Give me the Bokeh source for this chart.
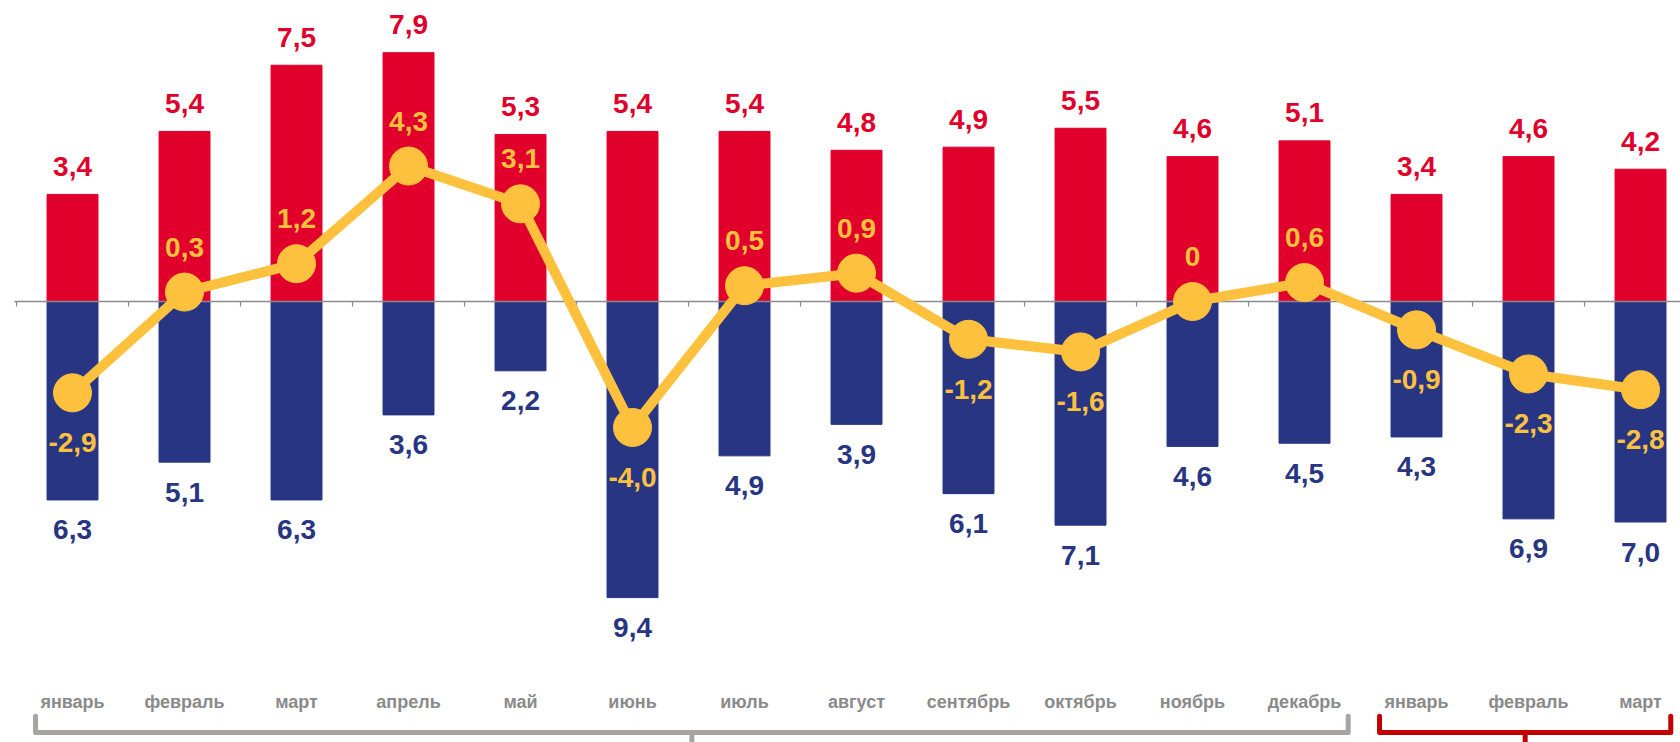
from bokeh.plotting import figure
from bokeh.models import Range1d, ColumnDataSource
from bokeh.core.properties import value
from bokeh.embed import file_html
from bokeh.resources import INLINE

months = ["январь", "февраль", "март", "апрель", "май", "июнь", "июль", "август",
          "сентябрь", "октябрь", "ноябрь", "декабрь", "январь", "февраль", "март"]
red_vals = [3.4, 5.4, 7.5, 7.9, 5.3, 5.4, 5.4, 4.8, 4.9, 5.5, 4.6, 5.1, 3.4, 4.6, 4.2]
blue_vals = [6.3, 5.1, 6.3, 3.6, 2.2, 9.4, 4.9, 3.9, 6.1, 7.1, 4.6, 4.5, 4.3, 6.9, 7.0]
line_vals = [-2.9, 0.3, 1.2, 4.3, 3.1, -4.0, 0.5, 0.9, -1.2, -1.6, 0.0, 0.6, -0.9, -2.3, -2.8]

RED = "#E0002B"
BLUE = "#283583"
YEL = "#FDC13E"
GRAY = "#8A8A8A"
BR_GRAY = "#A8A4A4"
BR_RED = "#C00000"
FONT = value("Liberation Sans")
VSIZE = "28px"

def fmt(v):
    if v == 0:
        return "0"
    return ("%.1f" % v).replace(".", ",")

x = list(range(len(months)))
src = ColumnDataSource(dict(
    x=x,
    red=red_vals,
    blue=[-b for b in blue_vals],
    line=line_vals,
    red_lbl=[fmt(v) for v in red_vals],
    blue_lbl=[fmt(v) for v in blue_vals],
    line_lbl=[fmt(v) for v in line_vals],
    month=months,
))

p = figure(width=1680, height=742, output_backend="svg", toolbar_location=None,
           x_range=Range1d(-0.643, 14.357), y_range=Range1d(-14.0, 9.556),
           min_border=0, outline_line_color=None)
p.axis.visible = False
p.grid.visible = False
p.background_fill_color = "white"

bw = 0.455
p.vbar(x="x", top="red", bottom=0, width=bw, color=RED, source=src)
p.vbar(x="x", top=0, bottom="blue", width=bw, color=BLUE, source=src)

# zero axis line with category ticks
n = len(months)
p.line([-0.52, 14.357], [0, 0], line_color=GRAY, line_width=1.5)
for k in range(n + 1):
    xb = k - 0.5
    p.line([xb, xb], [0, -0.16], line_color=GRAY, line_width=1.2)

p.line(x="x", y="line", line_color=YEL, line_width=10, line_join="round", source=src)
p.scatter(x="x", y="line", size=38, color=YEL, source=src)

p.text(x="x", y="red", text="red_lbl", source=src, text_color=RED, text_font=FONT,
       text_font_style="bold", text_font_size=VSIZE, text_align="center",
       text_baseline="middle", y_offset=-28)
p.text(x="x", y="blue", text="blue_lbl", source=src, text_color=BLUE, text_font=FONT,
       text_font_style="bold", text_font_size=VSIZE, text_align="center",
       text_baseline="middle", y_offset=30)

pos_idx = [i for i, v in enumerate(line_vals) if v >= 0]
neg_idx = [i for i, v in enumerate(line_vals) if v < 0]
pos_src = ColumnDataSource(dict(x=[x[i] for i in pos_idx], y=[line_vals[i] for i in pos_idx],
                                t=[fmt(line_vals[i]) for i in pos_idx]))
neg_src = ColumnDataSource(dict(x=[x[i] for i in neg_idx], y=[line_vals[i] for i in neg_idx],
                                t=[fmt(line_vals[i]) for i in neg_idx]))
p.text(x="x", y="y", text="t", source=pos_src, text_color=YEL, text_font=FONT,
       text_font_style="bold", text_font_size=VSIZE, text_align="center",
       text_baseline="middle", y_offset=-45)
p.text(x="x", y="y", text="t", source=neg_src, text_color=YEL, text_font=FONT,
       text_font_style="bold", text_font_size=VSIZE, text_align="center",
       text_baseline="middle", y_offset=50)

# month labels
lbl_y = -12.73
p.text(x="x", y=lbl_y, text="month", source=src, text_color=GRAY, text_font=FONT,
       text_font_style="bold", text_font_size="18px", text_align="center",
       text_baseline="middle")

# brackets
def bracket(x0, x1, color):
    ytop, ymid, ybot = -13.17, -13.68, -14.0
    xm = (x0 + x1) / 2
    p.line([x0, x0, x1, x1], [ytop, ymid, ymid, ytop], line_color=color, line_width=5,
           line_join="round", line_cap="round")
    p.line([xm, xm], [ymid, ybot - 0.5], line_color=color, line_width=5)

bracket(-0.33, 11.39, BR_GRAY)
bracket(11.67, 14.27, BR_RED)

open("out.html", "w").write(file_html(p, INLINE))
